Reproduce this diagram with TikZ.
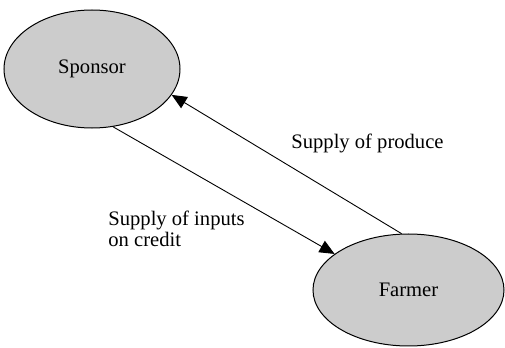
\documentclass[tikz,border=0pt]{standalone}
\usepackage{fontspec}
\setmainfont{Liberation Serif}
\usetikzlibrary{shapes.geometric,arrows.meta}
\tikzset{
	party/.style={ellipse, draw=black, line width=0.5pt, fill=black!20, inner sep=0pt},
	flow/.style={line width=0.45pt, -{Triangle[length=7.5pt,width=6.5pt]}},
	flowlabel/.style={anchor=west, align=left, inner sep=0pt}
}

\begin{document}
\begin{tikzpicture}[x=0.5pt, y=-0.5pt, font=\fontsize{10.3}{10.5}\selectfont]
		%%%%% START %%%%%
		
		\useasboundingbox (0, 0) rectangle (505, 348);
		
		\node[party, minimum width=88pt, minimum height=59pt] (sponsor) at (92, 69) {Sponsor};
		\node[party, minimum width=95.5pt, minimum height=56pt] (farmer) at (408.5, 290) {Farmer};
		
		\draw[flow] (sponsor.-70) -- (farmer.154.5);
		\draw[flow] (farmer.97.5) -- (sponsor.-18.4);
		
		\node[flowlabel] (produce) at (291, 143) {Supply of produce};
		\node[flowlabel] (inputs) at (108, 229) {Supply of inputs\\on credit};
		
		%%%%% END %%%%%
	\end{tikzpicture}
\end{document}
